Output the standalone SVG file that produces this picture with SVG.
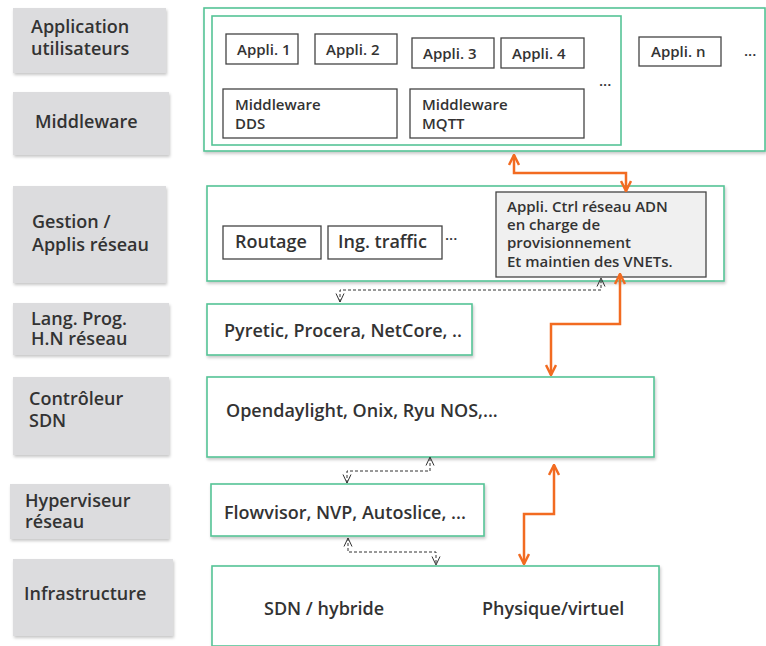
<svg xmlns="http://www.w3.org/2000/svg" width="766" height="646" viewBox="0 0 766 646">
<defs>
<filter id="sh" x="-10%" y="-10%" width="120%" height="130%"><feDropShadow dx="1" dy="2" stdDeviation="1.5" flood-color="#000" flood-opacity="0.22"/></filter>
<marker id="oa" viewBox="0 0 12 12" refX="11" refY="6" markerWidth="12" markerHeight="12" orient="auto-start-reverse" markerUnits="userSpaceOnUse"><path d="M1,1 L11,6 L1,11" fill="none" stroke="#f26b21" stroke-width="2.5"/></marker>
<marker id="da" viewBox="0 0 10 10" refX="9.5" refY="5" markerWidth="10" markerHeight="10" orient="auto-start-reverse" markerUnits="userSpaceOnUse"><path d="M1,1 L9.5,5 L1,9" fill="none" stroke="#333" stroke-width="1"/></marker>
</defs>
<style>
text{font-family:"Open Sans","Noto Sans","Liberation Sans",sans-serif;font-weight:600;fill:#333}
.lab{fill:#dcdcde;filter:url(#sh)}
.lt{font-size:18px}
.g{fill:#fff;stroke:#55c496;stroke-width:1.6;filter:url(#sh)}
.b{fill:#fff;stroke:#444;stroke-width:1.3}
.t15{font-size:15px}
.t17{font-size:18px}
.or{fill:none;stroke:#f26b21;stroke-width:2.5;marker-start:url(#oa);marker-end:url(#oa)}
.ds{fill:none;stroke:#333;stroke-width:1;stroke-dasharray:3,2;marker-start:url(#da);marker-end:url(#da)}
</style>
<rect width="766" height="646" fill="#fff"/>

<g id="label-application"><rect class="lab" x="13" y="8" width="153" height="65"/><text class="lt" x="31" y="33">Application</text><text class="lt" x="31" y="55">utilisateurs</text></g>
<g id="label-middleware"><rect class="lab" x="13" y="92" width="156" height="63"/><text class="lt" x="35" y="128">Middleware</text></g>
<g id="label-gestion"><rect class="lab" x="13" y="186" width="153" height="97"/><text class="lt" x="32" y="228">Gestion /</text><text class="lt" x="32" y="251">Applis réseau</text></g>
<g id="label-lang"><rect class="lab" x="13" y="303" width="156" height="52"/><text class="lt" x="31" y="325">Lang. Prog.</text><text class="lt" x="31" y="345">H.N réseau</text></g>
<g id="label-controleur"><rect class="lab" x="13" y="377" width="156" height="78"/><text class="lt" x="29" y="405">Contrôleur</text><text class="lt" x="29" y="427">SDN</text></g>
<g id="label-hyperviseur"><rect class="lab" x="10" y="484" width="159" height="55"/><text class="lt" x="25" y="507">Hyperviseur</text><text class="lt" x="25" y="528">réseau</text></g>
<g id="label-infrastructure"><rect class="lab" x="13" y="559" width="160" height="77"/><text class="lt" x="24" y="600">Infrastructure</text></g>

<g id="applications">
<rect class="g" x="204" y="8" width="561" height="143"/>
<rect class="g" x="212" y="16" width="409" height="129" style="filter:none"/>
<g id="appli1"><rect class="b" x="226" y="34" width="72" height="30"/><text class="t15" x="237" y="55">Appli. 1</text></g>
<g id="appli2"><rect class="b" x="315" y="34" width="82" height="30"/><text class="t15" x="326" y="55">Appli. 2</text></g>
<g id="appli3"><rect class="b" x="412" y="38" width="82" height="30"/><text class="t15" x="423" y="59">Appli. 3</text></g>
<g id="appli4"><rect class="b" x="501" y="38" width="83" height="30"/><text class="t15" x="512" y="59">Appli. 4</text></g>
<g id="applin"><rect class="b" x="639" y="37" width="82" height="29"/><text class="t15" x="651" y="57">Appli. n</text></g>
<text class="t15" x="599" y="86">...</text>
<text class="t15" x="744" y="56">...</text>
<g id="mw-dds"><rect class="b" x="223" y="89" width="174" height="49"/><text class="t15" x="235" y="110">Middleware</text><text class="t15" x="235" y="129">DDS</text></g>
<g id="mw-mqtt"><rect class="b" x="410" y="89" width="174" height="49"/><text class="t15" x="422" y="110">Middleware</text><text class="t15" x="422" y="129">MQTT</text></g>
</g>

<g id="gestion">
<rect class="g" x="207" y="186" width="517" height="95"/>
<g id="routage"><rect class="b" x="223" y="226" width="98" height="33"/><text class="t17" x="235" y="248">Routage</text></g>
<g id="ingtraffic"><rect class="b" x="328" y="226" width="114" height="33"/><text class="t17" x="338" y="248">Ing. traffic</text></g>
<text class="t15" x="445" y="240">...</text>
<g id="adn"><rect x="496" y="192" width="210" height="85" fill="#f0f0f0" stroke="#444" stroke-width="1.3"/>
<text class="t15" x="507" y="212">Appli. Ctrl réseau ADN</text>
<text class="t15" x="507" y="230">en charge de</text>
<text class="t15" x="507" y="248">provisionnement</text>
<text class="t15" x="507" y="267">Et maintien des VNETs.</text></g>
</g>

<g id="lang"><rect class="g" x="207" y="304" width="265" height="51"/><text class="t17" x="224" y="337">Pyretic, Procera, NetCore, ..</text></g>
<g id="controleur"><rect class="g" x="207" y="377" width="447" height="80"/><text class="t17" x="226" y="417">Opendaylight, Onix, Ryu NOS,...</text></g>
<g id="hyperviseur"><rect class="g" x="211" y="484" width="273" height="52"/><text class="t17" x="224" y="519">Flowvisor, NVP, Autoslice, ...</text></g>
<g id="infrastructure"><rect class="g" x="212" y="566" width="447" height="80"/><text class="t17" x="264" y="615">SDN / hybride</text><text class="t17" x="482" y="615">Physique/virtuel</text></g>

<g id="connectors">
<path class="or" d="M514,155 V173 H626 V191"/>
<path class="or" d="M620,274 V324 H551 V375"/>
<path class="or" d="M554,465 V514 H524 V564"/>
<path class="ds" d="M340,302 V290 H601 V278"/>
<path class="ds" d="M347,483 V471 H430 V457"/>
<path class="ds" d="M348,538 V552 H436 V565"/>
</g>
</svg>
